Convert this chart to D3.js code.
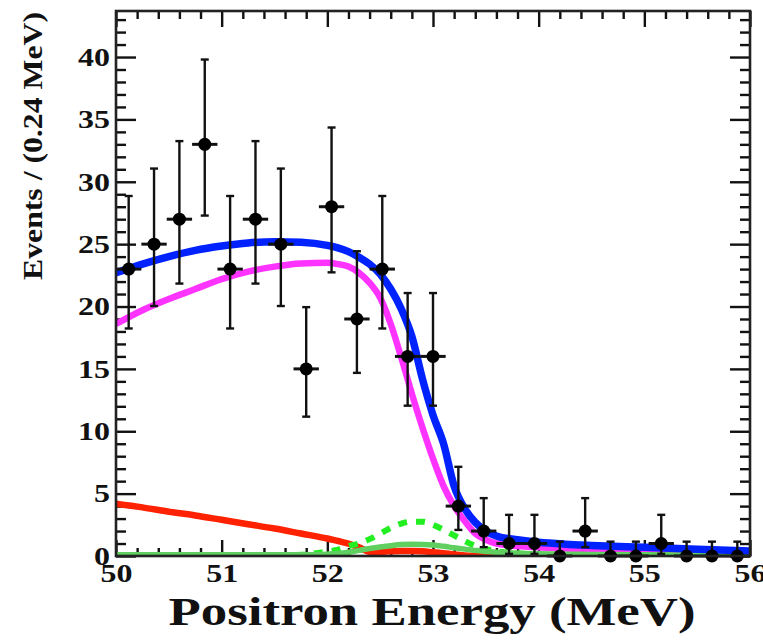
<!DOCTYPE html>
<html>
<head>
<meta charset="utf-8">
<script src="https://cdn.jsdelivr.net/npm/d3@7"></script>
<style>
  html, body { margin: 0; padding: 0; background: #fff; }
  svg { display: block; }
  text { font-family: "Liberation Serif", "Times New Roman", serif; font-weight: bold; fill: #111; }
</style>
</head>
<body>
<svg id="chart" width="763" height="640"></svg>
<script>
// ---------------- data ----------------
const binCenters = [50.12, 50.36, 50.60, 50.84, 51.08, 51.32, 51.56, 51.80, 52.04, 52.28,
                    52.52, 52.76, 53.00, 53.24, 53.48, 53.72, 53.96, 54.20, 54.44, 54.68,
                    54.92, 55.16, 55.40, 55.64, 55.88];
const counts     = [23, 25, 27, 33, 23, 27, 25, 15, 28, 19,
                    23, 16, 16, 4, 2, 1, 1, 0, 2, 0,
                    0, 1, 0, 0, 0];
const errLow     = [18.24, 20.04, 21.84, 27.29, 18.24, 21.84, 20.04, 11.17, 22.74, 14.68,
                    18.24, 12.05, 12.05, 2.09, 0.71, 0.17, 0.17, 0, 0.71, 0,
                    0, 0.17, 0, 0, 0];
const errHigh    = [28.86, 31.06, 33.26, 39.80, 28.86, 33.26, 31.06, 19.95, 34.35, 24.43,
                    28.86, 21.08, 21.08, 7.15, 4.64, 3.30, 3.30, 1.15, 4.64, 1.15,
                    1.15, 3.30, 1.15, 1.15, 1.15];
const binHalfWidth = 0.12;

const curveEnergy = [50, 50.25, 50.5, 50.75, 51, 51.25, 51.5, 51.75, 52, 52.1,
                     52.2, 52.3, 52.4, 52.5, 52.6, 52.7, 52.8, 52.9, 53, 53.1,
                     53.2, 53.3, 53.4, 53.5, 53.6, 53.8, 54, 54.25, 54.5, 55,
                     55.5, 56];
const totalFit   = [22.7, 23.4, 24.0, 24.5, 24.85, 25.1, 25.2, 25.15, 24.9, 24.7,
                    24.4, 23.95, 23.4, 22.6, 21.4, 19.8, 17.6, 14.2, 11.3, 9.0,
                    5.6, 3.8, 2.7, 2.0, 1.6, 1.3, 1.1, 0.95, 0.85, 0.7,
                    0.55, 0.4];
const signalFit  = [18.6, 19.7, 20.6, 21.4, 22.2, 22.8, 23.2, 23.45, 23.5, 23.4,
                    23.2, 22.7, 21.9, 20.7, 18.6, 15.9, 13.0, 10.3, 7.8, 5.6,
                    4.0, 2.8, 1.8, 1.3, 1.0, 0.8, 0.7, 0.6, 0.55, 0.45,
                    0.35, 0.25];
const redBkg     = [4.2, 3.9, 3.55, 3.25, 2.9, 2.55, 2.2, 1.8, 1.4, 1.2,
                    1.0, 0.7, 0.35, 0.35, 0.38, 0.4, 0.4, 0.38, 0.3, 0.22,
                    0.12, 0.05, 0.02, 0, 0, 0, 0, 0, 0, 0,
                    0, 0];
const greenSolid = [0.1, 0.1, 0.1, 0.1, 0.1, 0.1, 0.1, 0.1, 0.15, 0.2,
                    0.3, 0.45, 0.6, 0.72, 0.83, 0.92, 0.95, 0.93, 0.88, 0.78,
                    0.66, 0.55, 0.45, 0.36, 0.3, 0.22, 0.18, 0.15, 0.13, 0.1,
                    0.08, 0.06];
const greenDashed= [0.05, 0.05, 0.05, 0.05, 0.05, 0.05, 0.05, 0.1, 0.35, 0.5,
                    0.8, 1.0, 1.35, 1.8, 2.25, 2.6, 2.75, 2.75, 2.5, 2.1,
                    1.65, 1.2, 0.8, 0.55, 0.38, 0.2, 0.12, 0.08, 0.06, 0.05,
                    0.05, 0.05];

const xMajorTicks = [50, 51, 52, 53, 54, 55, 56];
const yMajorTicks = [0, 5, 10, 15, 20, 25, 30, 35, 40];
const xTitle = "Positron Energy (MeV)";
const yTitle = "Events / (0.24 MeV)";

// ---------------- layout ----------------
const L = 116, R = 750, T = 11, B = 556;
const svg = d3.select("#chart");
const x = d3.scaleLinear().domain([50, 56]).range([L, R]);
const y = d3.scaleLinear().domain([0, 43.69]).range([B, T]);

svg.append("defs").append("clipPath").attr("id", "plotclip")
  .append("rect").attr("x", L).attr("y", T).attr("width", R - L).attr("height", B - T);

// minor tick values
const xMinor = d3.range(50, 56.001, 0.2).filter(v => Math.abs(v - Math.round(v)) > 1e-6);
const yMinor = d3.range(0, 43.5, 1).filter(v => v % 5 !== 0);

function styleAxis(g) {
  g.select(".domain").remove();
  g.selectAll(".tick line").attr("stroke", "#111").attr("stroke-width", 2.4);
}

// bottom axis
const gxMinor = svg.append("g").attr("transform", `translate(0,${B})`)
  .call(d3.axisBottom(x).tickValues(xMinor).tickSizeInner(-8).tickSizeOuter(0).tickFormat(""));
styleAxis(gxMinor);
const gx = svg.append("g").attr("transform", `translate(0,${B})`)
  .call(d3.axisBottom(x).tickValues(xMajorTicks).tickSizeInner(-16).tickSizeOuter(0).tickPadding(8).tickFormat(d3.format("d")));
styleAxis(gx);
gx.selectAll(".tick text").attr("font-size", 26).attr("fill", "#111")
  .attr("textLength", d => String(d).length * 16).attr("lengthAdjust", "spacingAndGlyphs");

// top axis
const gtMinor = svg.append("g").attr("transform", `translate(0,${T})`)
  .call(d3.axisTop(x).tickValues(xMinor).tickSizeInner(-8).tickSizeOuter(0).tickFormat(""));
styleAxis(gtMinor);
const gt = svg.append("g").attr("transform", `translate(0,${T})`)
  .call(d3.axisTop(x).tickValues(xMajorTicks).tickSizeInner(-16).tickSizeOuter(0).tickFormat(""));
styleAxis(gt);

// left axis
const gyMinor = svg.append("g").attr("transform", `translate(${L},0)`)
  .call(d3.axisLeft(y).tickValues(yMinor).tickSizeInner(-10).tickSizeOuter(0).tickFormat(""));
styleAxis(gyMinor);
const gy = svg.append("g").attr("transform", `translate(${L},0)`)
  .call(d3.axisLeft(y).tickValues(yMajorTicks).tickSizeInner(-20).tickSizeOuter(0).tickPadding(6).tickFormat(d3.format("d")));
styleAxis(gy);
gy.selectAll(".tick text").attr("font-size", 26).attr("fill", "#111")
  .attr("textLength", d => String(d).length * 16).attr("lengthAdjust", "spacingAndGlyphs");

// right axis
const grMinor = svg.append("g").attr("transform", `translate(${R},0)`)
  .call(d3.axisRight(y).tickValues(yMinor).tickSizeInner(-10).tickSizeOuter(0).tickFormat(""));
styleAxis(grMinor);
const gr = svg.append("g").attr("transform", `translate(${R},0)`)
  .call(d3.axisRight(y).tickValues(yMajorTicks).tickSizeInner(-20).tickSizeOuter(0).tickFormat(""));
styleAxis(gr);

// ---------------- curves ----------------
const plot = svg.append("g").attr("clip-path", "url(#plotclip)");
function drawCurve(vals, color, width, dash) {
  const line = d3.line()
    .x((d, i) => x(curveEnergy[i]))
    .y(d => y(d))
    .curve(d3.curveMonotoneX);
  const p = plot.append("path").datum(vals)
    .attr("d", line).attr("fill", "none")
    .attr("stroke", color).attr("stroke-width", width)
    .attr("stroke-linejoin", "round");
  if (dash) p.attr("stroke-dasharray", dash).attr("stroke-linecap", "butt");
}
drawCurve(signalFit, "#ff33ff", 6.5);
drawCurve(redBkg, "#ff2200", 6.5);
drawCurve(greenDashed, "#22ee22", 6, "9,9");
drawCurve(greenSolid, "#5fcf5f", 5.5);
drawCurve(totalFit, "#0022ff", 7.5);

// ---------------- data points ----------------
const pts = svg.append("g");
binCenters.forEach((c, i) => {
  const cx = x(c), cy = y(counts[i]);
  const yl = y(errLow[i]), yh = y(errHigh[i]);
  pts.append("line").attr("x1", cx).attr("x2", cx).attr("y1", yl).attr("y2", yh)
    .attr("stroke", "#111").attr("stroke-width", 2.4);
  [yl, yh].forEach(yy => {
    if (Math.abs(yy - cy) > 1) {
      pts.append("line").attr("x1", cx - 4).attr("x2", cx + 4).attr("y1", yy).attr("y2", yy)
        .attr("stroke", "#111").attr("stroke-width", 2.4);
    }
  });
  pts.append("line").attr("x1", x(c - binHalfWidth)).attr("x2", x(c + binHalfWidth))
    .attr("y1", cy).attr("y2", cy).attr("stroke", "#111").attr("stroke-width", 3);
  pts.append("circle").attr("cx", cx).attr("cy", cy).attr("r", 6.5).attr("fill", "#000");
});

// frame
svg.append("rect").attr("x", L).attr("y", T).attr("width", R - L).attr("height", B - T)
  .attr("fill", "none").attr("stroke", "#222").attr("stroke-width", 2.6);

// ---------------- titles ----------------
svg.append("text").attr("x", 432).attr("y", 625).attr("text-anchor", "middle")
  .attr("font-size", 40).attr("textLength", 527).attr("lengthAdjust", "spacingAndGlyphs")
  .text(xTitle);
svg.append("text").attr("transform", "translate(42,146) rotate(-90)")
  .attr("text-anchor", "middle").attr("font-size", 28)
  .attr("textLength", 268).attr("lengthAdjust", "spacingAndGlyphs")
  .text(yTitle);
</script>
</body>
</html>
